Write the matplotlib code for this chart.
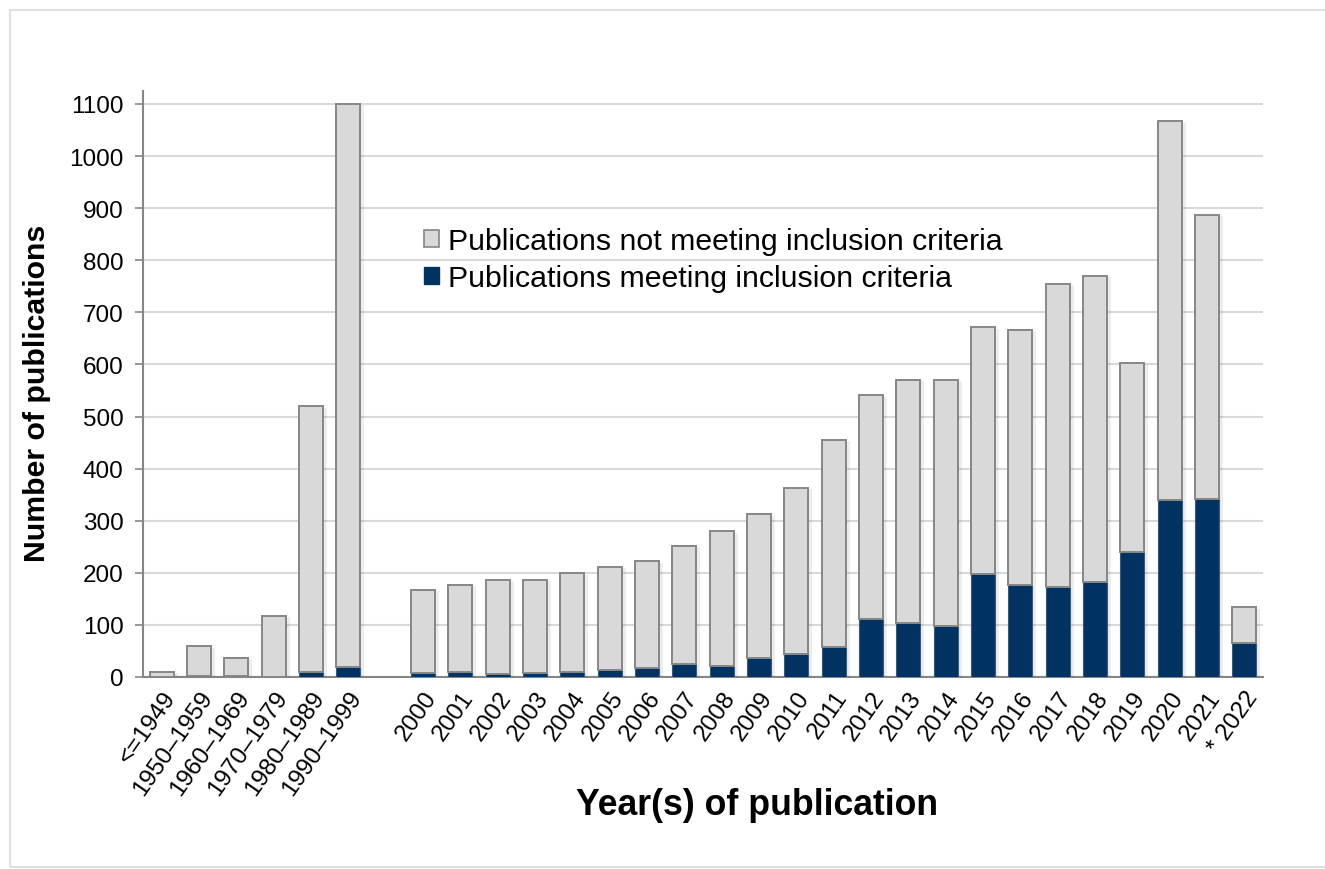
import matplotlib.pyplot as plt
import matplotlib.patches as mpatches
import matplotlib.patheffects as pe
import numpy as np

plt.rcParams['font.family'] = ['Liberation Sans', 'DejaVu Sans']

# data
labels = ["<=1949", "1950\u20131959", "1960\u20131969", "1970\u20131979", "1980\u20131989", "1990\u20131999",
          "2000", "2001", "2002", "2003", "2004", "2005", "2006", "2007", "2008", "2009", "2010",
          "2011", "2012", "2013", "2014", "2015", "2016", "2017", "2018", "2019", "2020", "2021", "* 2022"]
totals = [10, 59, 37, 118, 520, 1100,
          167, 177, 187, 187, 199, 211, 222, 252, 280, 312, 363,
          455, 541, 571, 570, 671, 666, 755, 770, 603, 1067, 887, 134]
meeting = [0, 1, 2, 0, 10, 20,
           8, 10, 5, 8, 10, 13, 17, 25, 22, 37, 44,
           57, 112, 103, 98, 197, 176, 172, 183, 240, 340, 341, 66]
not_meeting = [t - m for t, m in zip(totals, meeting)]

# decades first, then one empty slot gap, then the single years
pos = np.array(list(range(6)) + list(range(7, 30)))

light = "#D9D9D9"
dark = "#003361"
edge = "#868686"

fig = plt.figure(figsize=(13.25, 8.7), dpi=100)
ax = fig.add_axes([0.1079, 0.2207, 0.8453, 0.6736])

shadow = [pe.SimplePatchShadow(offset=(3, -1), alpha=0.07, shadow_rgbFace="black"), pe.Normal()]

b1 = ax.bar(pos, meeting, width=0.64, color=dark, edgecolor="#3a5a7a", linewidth=0.8, zorder=3)
b2 = ax.bar(pos, not_meeting, width=0.64, bottom=meeting, color=light, edgecolor=edge, linewidth=1.4, zorder=3)
for b in list(b1) + list(b2):
    b.set_path_effects(shadow)

ax.set_xlim(-0.5, 29.5)
ax.set_ylim(0, 1125)
ax.set_yticks(range(0, 1101, 100))
ax.set_xticks(pos)
ax.set_xticklabels(labels, rotation=55, ha="right", rotation_mode="anchor", fontsize=17.5)
ax.tick_params(axis="y", labelsize=17.5, length=6, color=edge, width=1.2, pad=8)
ax.tick_params(axis="x", length=0, pad=7)

ax.grid(axis="y", color="#D9D9D9", linewidth=1.5, zorder=0)
ax.set_axisbelow(True)
for s in ["top", "right"]:
    ax.spines[s].set_visible(False)
for s in ["left", "bottom"]:
    ax.spines[s].set_color(edge)
    ax.spines[s].set_linewidth(1.5)

fig.text(37 / 1325, 1 - 393 / 870, "Number of publications", rotation=90, ha="center", va="center",
         fontsize=21.8, fontweight="bold")
fig.text(757 / 1325, 1 - 806 / 870, "Year(s) of publication", ha="center", va="center",
         fontsize=25.7, fontweight="bold")

handles = [mpatches.Patch(facecolor=light, edgecolor=edge, linewidth=1.2),
           mpatches.Patch(facecolor=dark, edgecolor=dark)]
fig.legend(handles, ["Publications not meeting inclusion criteria", "Publications meeting inclusion criteria"],
           loc="upper left", bbox_to_anchor=(424 / 1325, 1 - 228 / 870), frameon=False, fontsize=21.8,
           handlelength=0.5, handleheight=0.5, handletextpad=0.3, labelspacing=0.3, borderaxespad=0,
           borderpad=0)

# light frame round the figure
fig.patches.append(mpatches.Rectangle((10 / 1325, 2 / 870), 1.2, 857 / 870, transform=fig.transFigure,
                                      fill=False, edgecolor="#D9D9D9", linewidth=1.2))

fig.savefig("out.png", dpi=100)
